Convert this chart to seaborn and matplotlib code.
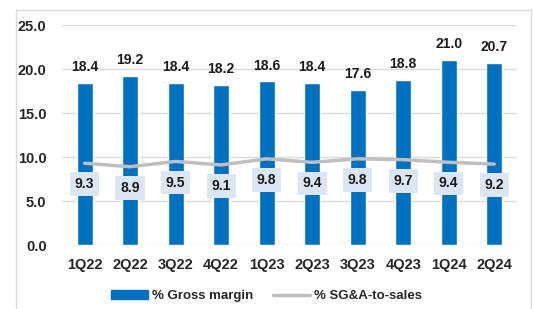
import matplotlib
matplotlib.use('Agg')
import matplotlib.pyplot as plt
import matplotlib.patches as mpatches
from matplotlib.lines import Line2D
import seaborn as sns
import pandas as pd

# --- Data ---
quarters = ['1Q22', '2Q22', '3Q22', '4Q22', '1Q23', '2Q23', '3Q23', '4Q23', '1Q24', '2Q24']
gross_margin = [18.4, 19.2, 18.4, 18.2, 18.6, 18.4, 17.6, 18.8, 21.0, 20.7]
sga_to_sales = [9.3, 8.9, 9.5, 9.1, 9.8, 9.4, 9.8, 9.7, 9.4, 9.2]
y_ticks = [0, 5, 10, 15, 20, 25]

BAR_COLOR = '#0070C0'
LINE_COLOR = '#BFBFBF'
BOX_COLOR = '#DCE6F2'

sns.set_style('white')
plt.rcParams['font.family'] = ['Liberation Sans Narrow', 'Liberation Sans', 'DejaVu Sans']

df = pd.DataFrame({'quarter': quarters, 'gm': gross_margin, 'sga': sga_to_sales})

fig = plt.figure(figsize=(5.33, 3.09), dpi=100)
ax = fig.add_axes([0.116, 0.207, 0.854, 0.712])

sns.barplot(data=df, x='quarter', y='gm', color=BAR_COLOR, width=0.35,
            saturation=1, ax=ax, zorder=2)
ax.plot(range(len(quarters)), df['sga'], color=LINE_COLOR, lw=2.5, zorder=3)

# bar labels
for i, v in enumerate(gross_margin):
    ax.text(i, v + 1.0, f'{v:.1f}', ha='center', va='bottom', fontsize=10,
            fontweight='bold', color='#1a1a1a')

# line labels in boxes
for i, v in enumerate(sga_to_sales):
    ax.text(i, v - 2.4, f'{v:.1f}', ha='center', va='center', fontsize=10,
            fontweight='bold', color='#1a1a1a', zorder=4,
            bbox=dict(boxstyle='square,pad=0.35', facecolor=BOX_COLOR, edgecolor='none'))

ax.set_ylim(0, 25)
ax.set_yticks(y_ticks)
ax.set_yticklabels([f'{t:.1f}' for t in y_ticks], fontsize=10.5, fontweight='bold')
ax.tick_params(axis='x', labelsize=10.5, pad=9)
for lbl in ax.get_xticklabels():
    lbl.set_fontweight('bold')
ax.tick_params(axis='y', pad=11, length=0)
ax.tick_params(axis='x', length=0)
ax.set_xlim(-0.5, len(quarters) - 0.5)
ax.set_xlabel('')
ax.set_ylabel('')
ax.yaxis.grid(True, color='#D9D9D9', lw=1)
ax.set_axisbelow(True)
for s in ax.spines.values():
    s.set_visible(False)

# legend
handles = [mpatches.Patch(color=BAR_COLOR, label='% Gross margin'),
           Line2D([0], [0], color=LINE_COLOR, lw=2.5, label='% SG&A-to-sales')]
leg = fig.legend(handles=handles, loc='center', bbox_to_anchor=(0.5, 0.042), ncol=2,
                 frameon=False, fontsize=9.5, handlelength=2.8, columnspacing=1.5,
                 handletextpad=0.3)
for t in leg.get_texts():
    t.set_fontweight('bold')

# outer frame
fig.patches.append(mpatches.Rectangle((0.030, -0.05), 0.966, 1.018, transform=fig.transFigure,
                                      fill=False, edgecolor='#D9D9D9', lw=1))

fig.savefig('out.png', dpi=100)
